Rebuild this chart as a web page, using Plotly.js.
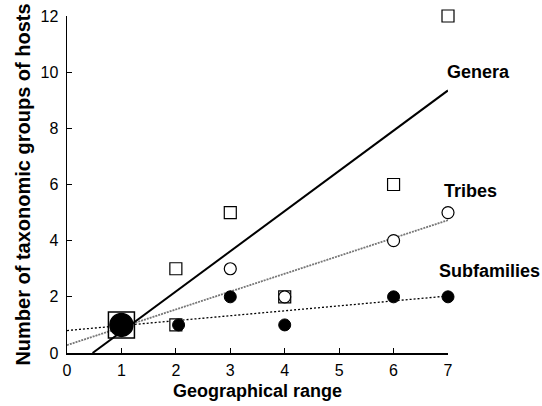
<!DOCTYPE html>
<html><head><meta charset="utf-8">
<script src="https://cdn.plot.ly/plotly-3.0.1.min.js"></script>
<style>body{margin:0;background:#fff}#c{width:542px;height:406px}</style>
</head><body><div id="c"></div>
<script>
// Observed points
const generaX = [2, 2, 3, 4, 6, 7];
const generaY = [1, 3, 5, 2, 6, 12];
const tribesX = [3, 4, 6, 7];
const tribesY = [3, 2, 4, 5];
const subfamX = [2.05, 3, 4, 6, 7];
const subfamY = [1, 2, 1, 2, 2];
// Shared point at (1,1) drawn large
const sharedX = [1];
const sharedY = [1];
// Regression line endpoints
const generaFitX = [0.47, 7];
const generaFitY = [0, 9.35];
const tribesFitX = [0, 7];
const tribesFitY = [0.28, 4.73];
const subfamFitX = [0, 7];
const subfamFitY = [0.8, 2.03];
// Labels
const labelText = ["Genera", "Tribes", "Subfamilies"];
const labelY = [10.0, 5.77, 2.92];
const labelPX = [1.079, 1.060, 1.108];

const traces = [
  {x: subfamFitX, y: subfamFitY, mode: 'lines', line: {color: '#000', width: 1.3, dash: '2px,2px'}},
  {x: tribesFitX, y: tribesFitY, mode: 'lines', line: {color: '#777', width: 1.8, dash: '2px,1px'}},
  {x: generaFitX, y: generaFitY, mode: 'lines', line: {color: '#000', width: 2}},
  {x: sharedX, y: sharedY, mode: 'markers', cliponaxis: false, marker: {symbol: 'square-open', size: 26, color: '#000', line: {width: 1.5}}},
  {x: sharedX, y: sharedY, mode: 'markers', cliponaxis: false, marker: {symbol: 'circle', size: 23, color: '#000', line: {width: 1.5, color: '#000'}}},
  {x: generaX, y: generaY, mode: 'markers', cliponaxis: false, marker: {symbol: 'square', size: 12, color: '#fff', line: {width: 1.2, color: '#000'}}},
  {x: tribesX, y: tribesY, mode: 'markers', cliponaxis: false, marker: {symbol: 'circle', size: 12, color: '#fff', line: {width: 1.2, color: '#000'}}},
  {x: subfamX, y: subfamY, mode: 'markers', cliponaxis: false, marker: {symbol: 'circle', size: 12, color: '#000', line: {width: 1, color: '#000'}}}
];

const annotations = labelText.map((t, i) => ({
  text: '<b>' + t + '</b>', xref: 'paper', x: labelPX[i], yref: 'y', y: labelY[i],
  xanchor: 'center', yanchor: 'middle',
  showarrow: false, font: {family: 'Liberation Sans, Arial, sans-serif', size: 18, color: '#000'}
}));

const layout = {
  width: 542, height: 406,
  margin: {l: 67, r: 94, t: 16, b: 53},
  showlegend: false,
  paper_bgcolor: '#fff', plot_bgcolor: '#fff',
  font: {family: 'Liberation Sans, Arial, sans-serif', size: 16, color: '#000'},
  xaxis: {
    range: [0, 7], tickvals: [0,1,2,3,4,5,6,7], showgrid: false, zeroline: false,
    showline: true, linecolor: '#000', linewidth: 1.5, ticks: 'inside', ticklen: 5, tickcolor: '#000',
    tickfont: {size: 16}, ticklabelstandoff: 2,
    title: {text: '<b>Geographical range</b>', font: {size: 18}, standoff: 6}
  },
  yaxis: {
    range: [0, 12], tickvals: [0,2,4,6,8,10,12], showgrid: false, zeroline: false,
    showline: true, linecolor: '#000', linewidth: 1.5, ticks: 'inside', ticklen: 5, tickcolor: '#000',
    tickfont: {size: 16}, ticklabelstandoff: 4,
    title: {text: '<b>Number of taxonomic groups of hosts</b>', font: {size: 20}, standoff: 4}
  },
  annotations: annotations
};
Plotly.newPlot('c', traces, layout, {displayModeBar: false, staticPlot: true});
</script></body></html>
